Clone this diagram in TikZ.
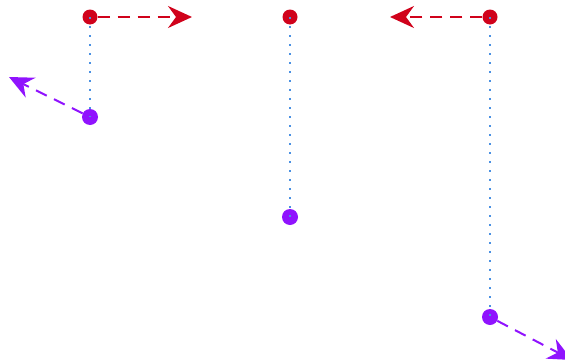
\documentclass[tikz,border=0pt]{standalone}
\usepackage{tikz}
\usetikzlibrary{arrows.meta, positioning, calc}
\usepackage{xcolor}
\definecolor{bobred}{HTML}{D0021B}
\definecolor{bobpurple}{HTML}{9013FE}
\definecolor{rodblue}{HTML}{4A90E2}

\tikzset{
  anchordot/.style={circle, fill=bobred, inner sep=0pt, minimum size=15pt},
  bobdot/.style={circle, fill=bobpurple, inner sep=0pt, minimum size=16pt},
  rod/.style={rodblue, line width=2pt, dash pattern=on 2pt off 7pt},
  vel/.style={line width=2pt, dash pattern=on 12pt off 8pt,
    -{Stealth[length=24pt, width=22pt, inset=8pt]}}
}

\begin{document}
\begin{tikzpicture}[x=1pt, y=-1pt]
  \useasboundingbox (0,0) rectangle (565,359);
  \clip (0,0) rectangle (565,359);

  % Anchor points
  \node[anchordot] (a1) at (90,17) {};
  \node[anchordot] (a2) at (290,17) {};
  \node[anchordot] (a3) at (490,17) {};

  % Bobs
  \node[bobdot] (b1) at (90,117) {};
  \node[bobdot] (b2) at (290,217) {};
  \node[bobdot] (b3) at (490,317) {};

  % Velocity tips
  \coordinate (v1) at (192,17);
  \coordinate (v3) at (390,17);
  \coordinate (w1) at (9,77);
  \coordinate (w3) at (572,360);

  % Rods
  \draw[rod] (a1.center) -- (b1.center);
  \draw[rod] (a2.center) -- (b2.center);
  \draw[rod] (a3.center) -- (b3.center);

  % Anchor velocities
  \draw[vel, bobred] (a1) -- (v1);
  \draw[vel, bobred] (a3) -- (v3);

  % Bob velocities
  \draw[vel, bobpurple] (b1) -- (w1);
  \draw[vel, bobpurple] (b3) -- (w3);
\end{tikzpicture}
\end{document}
